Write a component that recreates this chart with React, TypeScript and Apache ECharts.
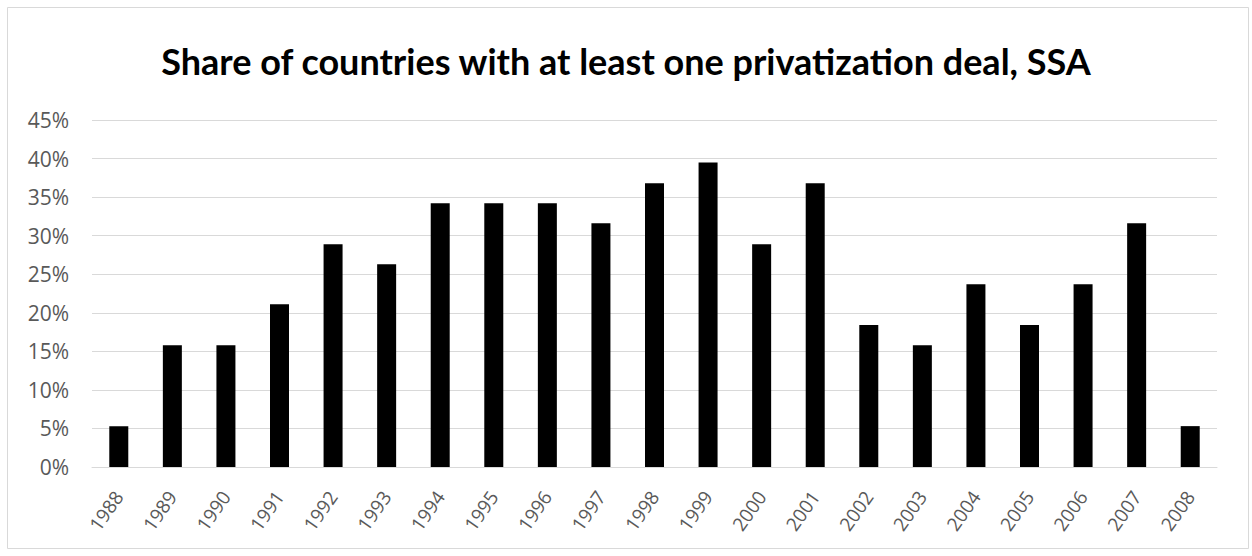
import React, { useEffect, useRef } from "react";
import * as echarts from "echarts";

const years = ["1988","1989","1990","1991","1992","1993","1994","1995","1996","1997","1998","1999","2000","2001","2002","2003","2004","2005","2006","2007","2008"];
const shares = [5.3,15.8,15.8,21.1,28.9,26.3,34.2,34.2,34.2,31.6,36.8,39.5,28.9,36.8,18.4,15.8,23.7,18.4,23.7,31.6,5.3];
const yTicks = [0,5,10,15,20,25,30,35,40,45];
const title = "Share of countries with at least one privatization deal, SSA";

export default function App() {
  const ref = useRef<HTMLDivElement>(null);
  useEffect(() => {
    if (!ref.current) return;
    const chart = echarts.init(ref.current, null, { renderer: "svg" });
    chart.setOption({
      animation: false,
      backgroundColor: "#ffffff",
      title: {
        text: title,
        left: "center",
        top: 38,
        textStyle: { fontFamily: "Lato", fontWeight: "bold", fontSize: 36, color: "#000000" },
      },
      graphic: [
        {
          type: "rect",
          shape: { x: 7.5, y: 7.5, width: 1241, height: 541 },
          style: { fill: "none", stroke: "#d9d9d9", lineWidth: 1 },
          silent: true,
        },
      ],
      grid: { left: 92, right: 35, top: 120, bottom: 89, containLabel: false },
      xAxis: {
        type: "category",
        data: years,
        axisLine: { show: true, lineStyle: { color: "#d9d9d9", width: 1 } },
        axisTick: { show: false },
        axisLabel: {
          rotate: 55,
          color: "#595959",
          fontFamily: "Open Sans",
          fontSize: 19,
          margin: 26,
          interval: 0,
        },
      },
      yAxis: {
        type: "value",
        min: 0,
        max: 45,
        interval: 5,
        axisLine: { show: false },
        axisTick: { show: false },
        splitLine: { lineStyle: { color: "#d9d9d9", width: 1 } },
        axisLabel: {
          color: "#595959",
          fontFamily: "Open Sans",
          fontSize: 21,
          margin: 23,
          formatter: (v: number) => (yTicks.includes(v) ? v + "%" : ""),
        },
      },
      series: [
        {
          type: "bar",
          data: shares,
          barWidth: 19,
          itemStyle: { color: "#000000" },
        },
      ],
    });
    return () => chart.dispose();
  }, []);
  return <div ref={ref} style={{ position: "absolute", left: 0, top: 0, width: 1252, height: 556 }} />;
}
